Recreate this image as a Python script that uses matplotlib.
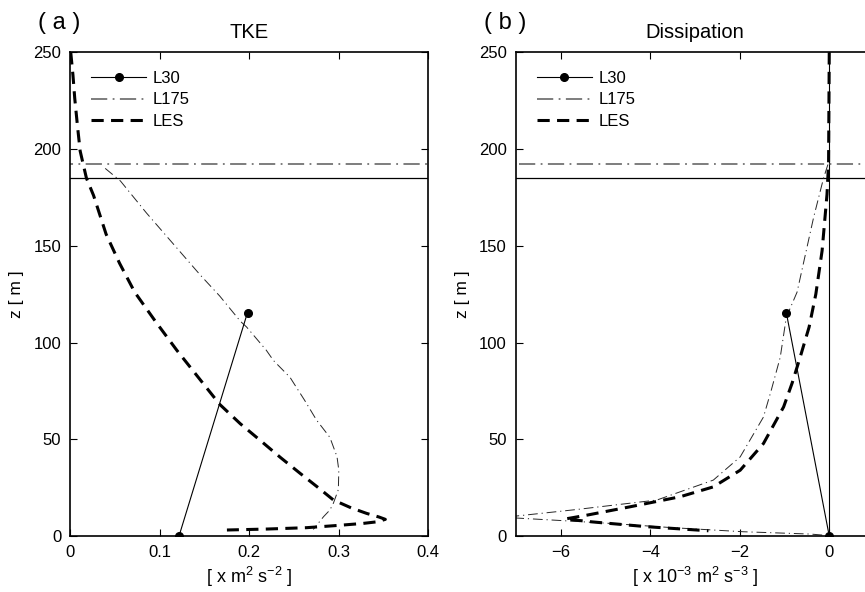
import matplotlib
matplotlib.use("Agg")
import matplotlib.pyplot as plt
import numpy as np

plt.rcParams['font.family'] = ['Liberation Sans', 'DejaVu Sans']
plt.rcParams['mathtext.fontset'] = 'custom'
plt.rcParams['mathtext.rm'] = 'Liberation Sans'
plt.rcParams['mathtext.it'] = 'Liberation Sans'
plt.rcParams['mathtext.default'] = 'regular'

# ---------------- data ----------------
# Panel (a) TKE
tke_les_k = [0.0005, 0.003, 0.005, 0.008, 0.011, 0.018, 0.026, 0.040, 0.055, 0.072, 0.095, 0.119,
             0.143, 0.167, 0.190, 0.212, 0.235, 0.257, 0.277, 0.294, 0.314, 0.331, 0.345, 0.352,
             0.342, 0.327, 0.300, 0.264, 0.220, 0.175]
tke_les_z = [250, 238, 226, 212, 199, 185, 176, 156, 141, 126, 111, 96,
             82, 68, 58, 49.5, 40.5, 32.3, 25, 18.6, 14.5, 11.7, 9.8, 8.6,
             7.3, 6.5, 5.5, 4.3, 3.6, 3.1]

tke_l175_k = [0.039, 0.056, 0.085, 0.115, 0.145, 0.167, 0.190, 0.197, 0.219, 0.227, 0.2455,
              0.262, 0.275, 0.290, 0.298, 0.300, 0.2995, 0.294, 0.290, 0.283, 0.2715]
tke_l175_z = [190, 183.5, 167, 151, 135, 124, 111, 108, 96, 90.7, 82,
              70, 60, 51, 41, 34, 24, 17, 13.4, 10, 3.4]

tke_l30_k = [0.1215, 0.198]
tke_l30_z = [0, 115.5]

# Panel (b) Dissipation [x 1e-3 m2 s-3]
eps_les = [0.0, -0.015, -0.05, -0.16, -0.30, -0.45, -0.65, -0.83, -1.02, -1.47, -1.99, -2.59,
           -3.33, -4.45, -5.41, -5.90, -5.30, -4.07, -2.70]
eps_les_z = [250, 193, 176.6, 147.4, 125, 108, 92.4, 79, 66.7, 47.8, 34, 25.4,
             20.3, 15.1, 10.8, 8.8, 7.3, 4.8, 2.7]

eps_l175 = [-0.03, -0.127, -0.35, -0.72, -0.96, -1.095, -1.30, -1.47, -1.99, -2.59, -3.85,
            -5.64, -7.0, -7.4, -7.0, -6.0, -4.89, -3.5, -1.92, -0.42, 0.0]
eps_l175_z = [192, 185, 164.6, 126, 113, 92.4, 75, 61.5, 40.9, 28.9, 18.6,
              13.7, 10.3, 9.8, 9.3, 8.0, 6.5, 4.3, 2.2, 1.0, 0.2]

eps_l30 = [0.0, -0.96]
eps_l30_z = [0, 115.5]

h_l30 = 185.0    # boundary-layer height lines
h_l175 = 192.5

panel_titles = ['TKE', 'Dissipation']
panel_tags = ['( a )', '( b )']
xlabels = [r'[ x m$^2$ s$^{-2}$ ]', r'[ x 10$^{-3}$ m$^2$ s$^{-3}$ ]']
ylabel = 'z [ m ]'

# ---------------- figure ----------------
W, H = 865, 592
fig = plt.figure(figsize=(W / 100, H / 100), dpi=100)

axw = 358 / W
axh = 483.7 / H
axb = 56 / H
axA = fig.add_axes([70.3 / W, axb, axw, axh])
axB = fig.add_axes([516 / W, axb, axw, axh])

dd_thin = (10, 4, 1.2, 4)
les_dash = (4, 2.4)


def style(ax, xlim, xticks, xticklabels, title, tag, xlabel):
    ax.set_xlim(*xlim)
    ax.set_ylim(0, 250)
    ax.set_xticks(xticks)
    ax.set_xticklabels(xticklabels)
    ax.set_yticks([0, 50, 100, 150, 200, 250])
    ax.tick_params(direction='in', top=True, right=True, length=5, width=0.8,
                   labelsize=12, pad=6.5, colors='black')
    for s in ax.spines.values():
        s.set_linewidth(1.2)
    ax.set_title(title, fontsize=14.5, pad=10.5)
    ax.set_xlabel(xlabel, fontsize=13)
    ax.xaxis.set_label_coords(0.5, -0.06)
    ax.set_ylabel(ylabel, fontsize=12.5)
    ax.yaxis.set_label_coords(-0.128, 0.5)
    ax.text(-0.031, 1.06, tag, transform=ax.transAxes, fontsize=17, ha='center', va='center')


def draw(ax, l30x, l30z, l175x, l175z, lesx, lesz):
    ax.axhline(h_l30, color='black', lw=0.9)
    hl, = ax.plot([-100, 100], [h_l175, h_l175], color='0.45', lw=1.3,
                  dashes=(9, 3, 1, 3), label='L175')
    ax.plot(l175x, l175z, color='0.15', lw=0.7, dashes=dd_thin)
    l30, = ax.plot(l30x, l30z, color='black', lw=0.8, marker='o', ms=5.5,
                   mfc='black', mec='black', label='L30')
    les, = ax.plot(lesx, lesz, color='black', lw=2.2, dashes=les_dash, label='LES')
    ax.legend(handles=[l30, hl, les], loc='upper left', bbox_to_anchor=(0.03, 0.982),
              frameon=False, fontsize=12, handlelength=3.3, handletextpad=0.4,
              labelspacing=0.38, borderaxespad=0.2)


draw(axA, tke_l30_k, tke_l30_z, tke_l175_k, tke_l175_z, tke_les_k, tke_les_z)
style(axA, (0, 0.4), [0, 0.1, 0.2, 0.3, 0.4], ['0', '0.1', '0.2', '0.3', '0.4'],
      panel_titles[0], panel_tags[0], xlabels[0])

axB.axvline(0, color='black', lw=0.8)
draw(axB, eps_l30, eps_l30_z, eps_l175, eps_l175_z, eps_les, eps_les_z)
style(axB, (-7, 1), [-6, -4, -2, 0], ['\u22126', '\u22124', '\u22122', '0'],
      panel_titles[1], panel_tags[1], xlabels[1])

fig.savefig('out.png', dpi=100)
